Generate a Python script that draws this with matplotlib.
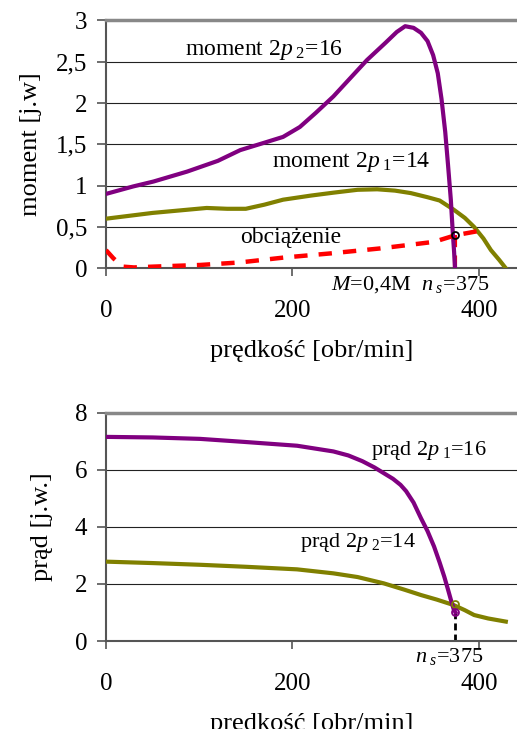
import numpy as np
import matplotlib.pyplot as plt

plt.rcParams['font.family'] = ['Liberation Serif', 'DejaVu Serif']
plt.rcParams['mathtext.fontset'] = 'custom'
plt.rcParams['mathtext.rm'] = 'Liberation Serif'
plt.rcParams['mathtext.it'] = 'Liberation Serif:italic'

PURPLE = '#800080'
OLIVE = '#808000'
RED = '#ff0000'

# --- moment chart data
m16_x = [0, 29, 51, 87, 120, 144, 170, 190, 208, 225, 244, 262, 280, 300, 312, 321,
         330, 338, 345, 351, 356, 360, 364, 367, 370, 372, 373.5, 374.5]
m16_y = [0.90, 0.99, 1.05, 1.17, 1.30, 1.43, 1.52, 1.59, 1.71, 1.88, 2.08, 2.30, 2.52,
         2.73, 2.86, 2.93, 2.91, 2.85, 2.75, 2.58, 2.36, 2.05, 1.65, 1.25, 0.83, 0.45,
         0.20, 0.0]

m14_x = [0, 50, 108, 130, 150, 170, 190, 220, 244, 270, 291, 310, 327, 345, 358, 373,
         385, 395, 405, 413, 422, 429]
m14_y = [0.60, 0.67, 0.73, 0.72, 0.72, 0.77, 0.83, 0.88, 0.915, 0.95, 0.956, 0.94, 0.91,
         0.86, 0.82, 0.71, 0.61, 0.50, 0.36, 0.22, 0.10, 0.0]

load_x = [0, 8, 18, 30, 51, 101, 143, 191, 241, 294, 352, 375, 409]
load_y = [0.22, 0.12, 0.02, 0.01, 0.02, 0.04, 0.07, 0.13, 0.18, 0.24, 0.32, 0.40, 0.47]

n_s = 375
M_s = 0.4

# --- current chart data
i16_x = [0, 50, 101, 150, 205, 244, 260, 275, 288, 298, 308, 316, 322, 330, 338, 345,
         352, 358, 363, 367, 370, 373, 375]
i16_y = [7.15, 7.13, 7.08, 6.97, 6.84, 6.64, 6.50, 6.30, 6.08, 5.88, 5.68, 5.47, 5.25,
         4.85, 4.30, 3.85, 3.31, 2.75, 2.25, 1.80, 1.45, 1.12, 1.0]

i14_x = [0, 50, 101, 150, 205, 244, 270, 298, 320, 338, 355, 373, 385, 395, 410, 429]
i14_y = [2.78, 2.73, 2.67, 2.60, 2.51, 2.37, 2.24, 2.02, 1.80, 1.61, 1.45, 1.26, 1.08,
         0.91, 0.79, 0.68]

I16_s = 1.0
I14_s = 1.3

top_yticks = [0, 0.5, 1, 1.5, 2, 2.5, 3]
top_ylabels = ['0', '0,5', '1', '1,5', '2', '2,5', '3']
bot_yticks = [0, 2, 4, 6, 8]
xticks = [0, 200, 400]

fig = plt.figure(figsize=(5.17, 7.29), dpi=100)
ax1 = fig.add_axes([0.205, 0.632, 0.795, 0.340])
ax2 = fig.add_axes([0.205, 0.1207, 0.795, 0.3133])


def style_axes(ax, yticks, ylabels, ylim):
    ax.set_xlim(0, 441)
    ax.set_ylim(*ylim)
    ax.set_xticks(xticks)
    ax.set_yticks(yticks)
    ax.set_yticklabels(ylabels)
    ax.grid(axis='y', color='#222222', lw=0.8)
    ax.set_axisbelow(True)
    for s in ['left', 'bottom']:
        ax.spines[s].set_color('#555555')
        ax.spines[s].set_linewidth(1.5)
    ax.spines['right'].set_visible(False)
    ax.spines['top'].set_color('#888888')
    ax.spines['top'].set_linewidth(2.5)
    ax.tick_params(axis='x', direction='out', length=6, width=1.2, color='#555555',
                   labelsize=18, pad=17)
    ax.tick_params(axis='y', direction='out', length=6.5, width=1.2, color='#555555',
                   labelsize=18, pad=7)
    ax.set_xlabel('prędkość [obr/min]', fontsize=19, labelpad=13)


style_axes(ax1, top_yticks, top_ylabels, (0, 3))
ax1.set_ylabel('moment [j.w]', fontsize=19, labelpad=10)

ax1.plot([n_s, n_s], [0, M_s], color=RED, lw=3, dashes=(3, 2), zorder=2)
ax1.plot(m14_x, m14_y, color=OLIVE, lw=3, solid_joinstyle='round', zorder=3)
ax1.plot(m16_x, m16_y, color=PURPLE, lw=3, solid_joinstyle='round', zorder=4)
ax1.plot(load_x, load_y, color=RED, lw=3.2, dashes=(3, 2.5), zorder=5)
ax1.plot([n_s], [M_s], 'o', ms=5, mfc='none', mec='black', mew=1.3, zorder=6)

ax1.text(85, 2.64, r'moment $\mathit{2p}_{\ \mathit{2}}$=16', fontsize=17, va='center')
ax1.text(178, 1.29, r'moment $\mathit{2p}_{\ \mathit{1}}$=14', fontsize=17, va='center')
ax1.text(144, 0.37, 'obciążenie', fontsize=17, va='center')
ax1.text(241, -0.2, r'$M$=0,4M  $n_{\ s}$=375', fontsize=16, va='center', clip_on=False)

style_axes(ax2, bot_yticks, [str(t) for t in bot_yticks], (0, 8))
ax2.set_ylabel('prąd [j.w.]', fontsize=19, labelpad=16)

ax2.plot([n_s, n_s], [0, I16_s], color='black', lw=2, dashes=(2.5, 1.5), zorder=2)
ax2.plot(i14_x, i14_y, color=OLIVE, lw=3, solid_joinstyle='round', zorder=3)
ax2.plot(i16_x, i16_y, color=PURPLE, lw=3, solid_joinstyle='round', zorder=4)
ax2.plot([n_s], [I14_s], 'o', ms=5, mfc='none', mec=OLIVE, mew=1.3, zorder=5)
ax2.plot([n_s], [I16_s], 'o', ms=5, mfc='none', mec=PURPLE, mew=1.3, zorder=5)

ax2.text(284, 6.68, r'prąd $\mathit{2p}_{\ \mathit{1}}$=16', fontsize=16, va='center')
ax2.text(208, 3.44, r'prąd $\mathit{2p}_{\ \mathit{2}}$=14', fontsize=16, va='center')
ax2.text(332, -0.55, r'$n_{\ s}$=375', fontsize=16, va='center', clip_on=False)

fig.savefig('out.png', dpi=100)
